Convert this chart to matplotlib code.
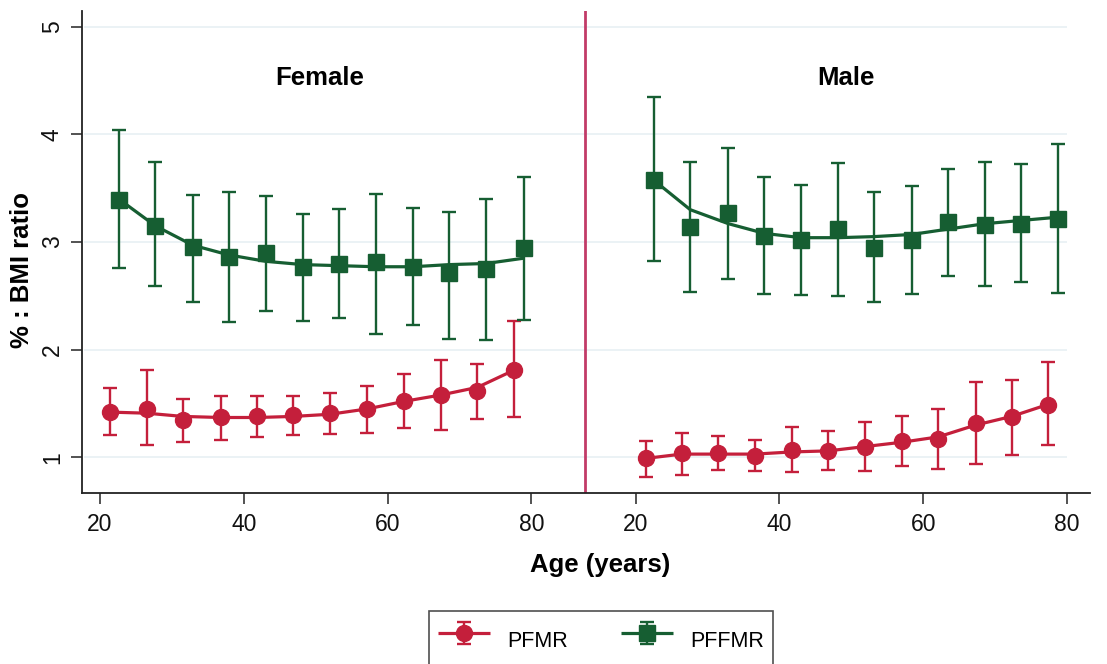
import matplotlib
matplotlib.use("Agg")
import matplotlib.pyplot as plt
import numpy as np

plt.rcParams['font.family'] = ['Liberation Sans', 'DejaVu Sans']

# ---------------- data ----------------
female_pfmr_age = [21.4, 26.5, 31.5, 36.8, 41.9, 46.9, 52.0, 57.2, 62.3, 67.5, 72.5, 77.6]
female_pfmr = [1.42, 1.45, 1.35, 1.37, 1.38, 1.39, 1.41, 1.45, 1.52, 1.58, 1.62, 1.81]
female_pfmr_hi = [1.64, 1.81, 1.54, 1.57, 1.57, 1.57, 1.60, 1.66, 1.77, 1.90, 1.87, 2.27]
female_pfmr_lo = [1.21, 1.11, 1.14, 1.16, 1.19, 1.21, 1.22, 1.23, 1.27, 1.25, 1.36, 1.37]
female_pfmr_fit = [1.42, 1.41, 1.38, 1.37, 1.37, 1.38, 1.40, 1.45, 1.52, 1.58, 1.65, 1.81]

female_pffmr_age = [22.6, 27.7, 32.9, 37.9, 43.1, 48.2, 53.3, 58.4, 63.5, 68.6, 73.7, 79.0]
female_pffmr = [3.39, 3.15, 2.95, 2.86, 2.90, 2.77, 2.80, 2.81, 2.77, 2.71, 2.75, 2.94]
female_pffmr_hi = [4.04, 3.74, 3.44, 3.46, 3.43, 3.26, 3.31, 3.45, 3.32, 3.28, 3.40, 3.60]
female_pffmr_lo = [2.76, 2.59, 2.44, 2.26, 2.36, 2.27, 2.29, 2.15, 2.23, 2.10, 2.09, 2.28]
female_pffmr_fit = [3.40, 3.15, 2.97, 2.88, 2.82, 2.79, 2.78, 2.77, 2.77, 2.79, 2.80, 2.85]

male_pfmr_age = [21.4, 26.4, 31.4, 36.6, 41.7, 46.8, 51.9, 57.0, 62.1, 67.3, 72.3, 77.3]
male_pfmr = [0.99, 1.04, 1.04, 1.01, 1.07, 1.06, 1.10, 1.15, 1.17, 1.32, 1.37, 1.49]
male_pfmr_hi = [1.15, 1.23, 1.20, 1.16, 1.28, 1.24, 1.33, 1.38, 1.45, 1.70, 1.72, 1.89]
male_pfmr_lo = [0.82, 0.84, 0.88, 0.87, 0.86, 0.88, 0.87, 0.92, 0.89, 0.94, 1.02, 1.11]
male_pfmr_fit = [0.99, 1.03, 1.03, 1.03, 1.05, 1.06, 1.10, 1.14, 1.19, 1.30, 1.38, 1.49]

male_pffmr_age = [22.6, 27.6, 32.9, 37.9, 43.0, 48.2, 53.2, 58.4, 63.5, 68.6, 73.6, 78.7]
male_pffmr = [3.58, 3.14, 3.27, 3.06, 3.02, 3.12, 2.94, 3.02, 3.19, 3.16, 3.17, 3.21]
male_pffmr_hi = [4.35, 3.74, 3.87, 3.60, 3.53, 3.73, 3.46, 3.52, 3.68, 3.74, 3.72, 3.91]
male_pffmr_lo = [2.82, 2.54, 2.66, 2.52, 2.51, 2.50, 2.44, 2.52, 2.68, 2.59, 2.63, 2.53]
male_pffmr_fit = [3.57, 3.30, 3.17, 3.08, 3.04, 3.04, 3.05, 3.07, 3.12, 3.17, 3.20, 3.23]

age_ticks = [20, 40, 60, 80]
y_ticks = [1, 2, 3, 4, 5]
panel_labels = ["Female", "Male"]
series_labels = ["PFMR", "PFFMR"]

# ---------------- style ----------------
RED = '#C41F3B'
GREEN = '#165E32'
DIV = '#C23B68'
GRID = '#E8F0F4'
MALE_OFFSET = 74.5
DIVIDER = 87.4

fig = plt.figure(figsize=(11.07, 6.64), dpi=100)
ax = fig.add_axes([82/1107, 1-493.3/664, (1090-82)/1107, (493.3-10.7)/664])
ax.set_xlim(17.5, 157.7)
ax.set_ylim(0.666, 5.148)

for yv in y_ticks:
    ax.hlines(yv, 17.8, 80 + MALE_OFFSET, color=GRID, lw=1.2, zorder=0)

ax.axvline(DIVIDER, color=DIV, lw=2, zorder=1)


def draw(age, val, hi, lo, fit, color, marker, ms, offset):
    x = np.asarray(age) + offset
    v = np.asarray(val)
    err = [v - np.asarray(lo), np.asarray(hi) - v]
    ln, = ax.plot(x, fit, color=color, lw=2.3, zorder=3, solid_capstyle='butt')
    eb = ax.errorbar(x, v, yerr=err, fmt=marker, color=color, ms=ms,
                     mfc=color, mec=color, ecolor=color, elinewidth=1.7,
                     capsize=5, capthick=1.7, zorder=4)
    return ln, eb


r1 = draw(female_pfmr_age, female_pfmr, female_pfmr_hi, female_pfmr_lo, female_pfmr_fit, RED, 'o', 11.5, 0)
g1 = draw(female_pffmr_age, female_pffmr, female_pffmr_hi, female_pffmr_lo, female_pffmr_fit, GREEN, 's', 12, 0)
draw(male_pfmr_age, male_pfmr, male_pfmr_hi, male_pfmr_lo, male_pfmr_fit, RED, 'o', 11.5, MALE_OFFSET)
draw(male_pffmr_age, male_pffmr, male_pffmr_hi, male_pffmr_lo, male_pffmr_fit, GREEN, 's', 12, MALE_OFFSET)

# axes styling
for s in ['top', 'right']:
    ax.spines[s].set_visible(False)
for s in ['left', 'bottom']:
    ax.spines[s].set_linewidth(1.3)
    ax.spines[s].set_color('#222222')

xt = list(age_ticks) + [a + MALE_OFFSET for a in age_ticks]
ax.set_xticks(xt)
ax.set_xticklabels([str(a) for a in age_ticks] * 2)
ax.set_yticks(y_ticks)
ax.set_yticklabels([str(v) for v in y_ticks], rotation=90, va='center')
ax.tick_params(axis='both', direction='out', length=8, width=1.3, color='#444444',
               labelsize=16.5, labelcolor='#111111')
ax.tick_params(axis='x', pad=6)
ax.tick_params(axis='y', pad=5)

fig.text(320/1107, 1-78/664, panel_labels[0], ha='center', va='center', fontsize=18.5, fontweight='bold')
fig.text(846/1107, 1-78/664, panel_labels[1], ha='center', va='center', fontsize=18.5, fontweight='bold')
fig.text(600/1107, 1-565/664, 'Age (years)', ha='center', va='center', fontsize=18.5, fontweight='bold')
fig.text(22/1107, 1-270/664, '% : BMI ratio', ha='center', va='center', rotation=90,
         fontsize=18.5, fontweight='bold')

leg = fig.legend([r1, g1], series_labels, loc='upper center',
                 bbox_to_anchor=(601/1107, 1-610.7/664), ncol=2, fontsize=15.5,
                 frameon=True, fancybox=False, edgecolor='#222222',
                 handlelength=2.4, handletextpad=0.8, columnspacing=2.5,
                 borderpad=0.4, handleheight=2.6, borderaxespad=0)
leg.get_frame().set_linewidth(1.2)

fig.savefig('out.png', dpi=100)
